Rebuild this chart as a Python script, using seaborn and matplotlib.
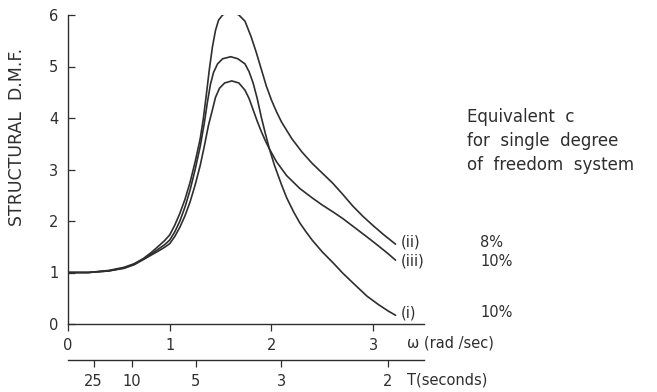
import numpy as np
import pandas as pd
import matplotlib
matplotlib.use("Agg")
import matplotlib.pyplot as plt
import seaborn as sns

# ---- data ----
x_ii = [0.0, 0.2, 0.4, 0.55, 0.65, 0.74, 0.82, 0.9, 0.95, 1.0, 1.05, 1.1, 1.15, 1.2, 1.25, 1.3,
        1.33, 1.36, 1.39, 1.42, 1.45, 1.48, 1.52, 1.57, 1.62, 1.68, 1.74, 1.8, 1.85, 1.9, 1.95,
        2.0, 2.05, 2.1, 2.2, 2.3, 2.4, 2.5, 2.6, 2.7, 2.8, 2.9, 3.0, 3.1, 3.22]
y_ii = [1.0, 1.0, 1.04, 1.1, 1.17, 1.27, 1.39, 1.53, 1.62, 1.73, 1.92, 2.15, 2.42, 2.75, 3.15, 3.6,
        3.98, 4.45, 4.95, 5.38, 5.7, 5.9, 6.0, 6.05, 6.05, 6.0, 5.88, 5.58, 5.28, 4.95, 4.62,
        4.35, 4.12, 3.92, 3.6, 3.34, 3.12, 2.93, 2.74, 2.52, 2.29, 2.09, 1.91, 1.74, 1.55]

x_i = [0.0, 0.2, 0.4, 0.55, 0.65, 0.74, 0.82, 0.9, 0.95, 1.0, 1.05, 1.1, 1.15, 1.2, 1.25, 1.3,
       1.34, 1.37, 1.40, 1.43, 1.47, 1.52, 1.6, 1.67, 1.74, 1.78, 1.82, 1.86, 1.9, 1.94, 1.98,
       2.03, 2.1, 2.15, 2.22, 2.28, 2.34, 2.4, 2.5, 2.61, 2.7, 2.8, 2.94, 3.05, 3.15, 3.22]
y_i = [1.0, 1.0, 1.03, 1.09, 1.16, 1.26, 1.36, 1.47, 1.54, 1.63, 1.79, 2.0, 2.27, 2.6, 3.0, 3.45,
       3.9, 4.3, 4.65, 4.88, 5.05, 5.15, 5.19, 5.15, 5.05, 4.9, 4.68, 4.38, 4.02, 3.7, 3.40,
       3.08, 2.7, 2.45, 2.17, 1.96, 1.79, 1.63, 1.40, 1.18, 0.99, 0.8, 0.54, 0.38, 0.25, 0.17]

x_iii = [0.0, 0.2, 0.4, 0.55, 0.65, 0.74, 0.82, 0.9, 0.95, 1.0, 1.05, 1.1, 1.15, 1.2, 1.25, 1.3,
         1.34, 1.38, 1.42, 1.45, 1.49, 1.54, 1.61, 1.68, 1.74, 1.78, 1.82, 1.86, 1.9, 1.94, 1.98,
         2.05, 2.15, 2.28, 2.4, 2.5, 2.61, 2.7, 2.8, 2.94, 3.05, 3.15, 3.22]
y_iii = [1.0, 1.0, 1.03, 1.08, 1.15, 1.25, 1.34, 1.43, 1.49, 1.56, 1.7, 1.88, 2.1, 2.37, 2.7, 3.08,
         3.45, 3.85, 4.16, 4.4, 4.58, 4.68, 4.72, 4.68, 4.54, 4.38, 4.16, 3.94, 3.74, 3.56, 3.40,
         3.15, 2.88, 2.63, 2.45, 2.31, 2.17, 2.05, 1.9, 1.69, 1.52, 1.36, 1.24]

curve_names = ["(ii)", "(iii)", "(i)"]
curve_damping = ["8%", "10%", "10%"]
curve_label_y = [1.59, 1.22, 0.22]

omega_ticks = [0, 1, 2, 3]
period_ticks = [25, 10, 5, 3, 2]
y_ticks = [0, 1, 2, 3, 4, 5, 6]

# ---- figure ----
sns.set_style("ticks")
plt.rcParams["font.family"] = ["DejaVu Sans"]
W, H = 657, 392
fig = plt.figure(figsize=(W / 100, H / 100), dpi=100)
ax = fig.add_axes([68 / W, 1 - 324 / H, 356 / W, 309 / H])

ink = "#2e2e2e"
df = pd.concat([
    pd.DataFrame({"w": x_ii, "dmf": y_ii, "curve": "(ii)"}),
    pd.DataFrame({"w": x_iii, "dmf": y_iii, "curve": "(iii)"}),
    pd.DataFrame({"w": x_i, "dmf": y_i, "curve": "(i)"}),
])
sns.lineplot(data=df, x="w", y="dmf", hue="curve", palette=[ink, ink, ink],
             estimator=None, sort=False, linewidth=1.2, legend=False, ax=ax)
for ln in ax.lines:
    ln.set_solid_joinstyle("round")

ax.set_xlim(0, 3.5)
ax.set_ylim(0, 6)
ax.set_xlabel("")
ax.set_ylabel("")
sns.despine(ax=ax)
for s in ("left", "bottom"):
    ax.spines[s].set_color(ink)
    ax.spines[s].set_linewidth(1.0)

ax.set_yticks(y_ticks)
ax.set_xticks(omega_ticks)
ax.tick_params(axis="y", direction="in", length=5, width=0.9, color=ink, pad=7,
               labelsize=10.5, labelcolor=ink)
ax.tick_params(axis="x", direction="out", length=5, width=0.9, color=ink, pad=5,
               labelsize=10.5, labelcolor=ink)

# secondary period axis below
sec = ax.secondary_xaxis(-36 / 309)
sec.set_xticks([2 * np.pi / t for t in period_ticks], labels=[str(t) for t in period_ticks])
sec.spines["bottom"].set_color(ink)
sec.spines["bottom"].set_linewidth(1.0)
sec.tick_params(axis="x", direction="out", length=5, width=0.9, color=ink, pad=5,
                labelsize=10.5, labelcolor=ink)

# texts
fig.text(17 / W, 1 - 137 / H, "STRUCTURAL  D.M.F.", rotation=90, ha="center", va="center",
         fontsize=12.5, color=ink)
fig.text(407 / W, 1 - 343 / H, "ω (rad /sec)", ha="left", va="center", fontsize=10.5, color=ink)
fig.text(407 / W, 1 - 380 / H, "T(seconds)", ha="left", va="center", fontsize=10.5, color=ink)

for i, line in enumerate(["Equivalent  c", "for  single  degree", "of  freedom  system"]):
    fig.text(467 / W, 1 - (117 + 24 * i) / H, line, ha="left", va="center", fontsize=12, color=ink)

for name, damp, yv in zip(curve_names, curve_damping, curve_label_y):
    ax.text(3.27, yv, name, ha="left", va="center", fontsize=10.5, color=ink, clip_on=False)
    ax.text(4.05, yv, damp, ha="left", va="center", fontsize=10.5, color=ink, clip_on=False)

fig.savefig("out.png", dpi=100, facecolor="white")
